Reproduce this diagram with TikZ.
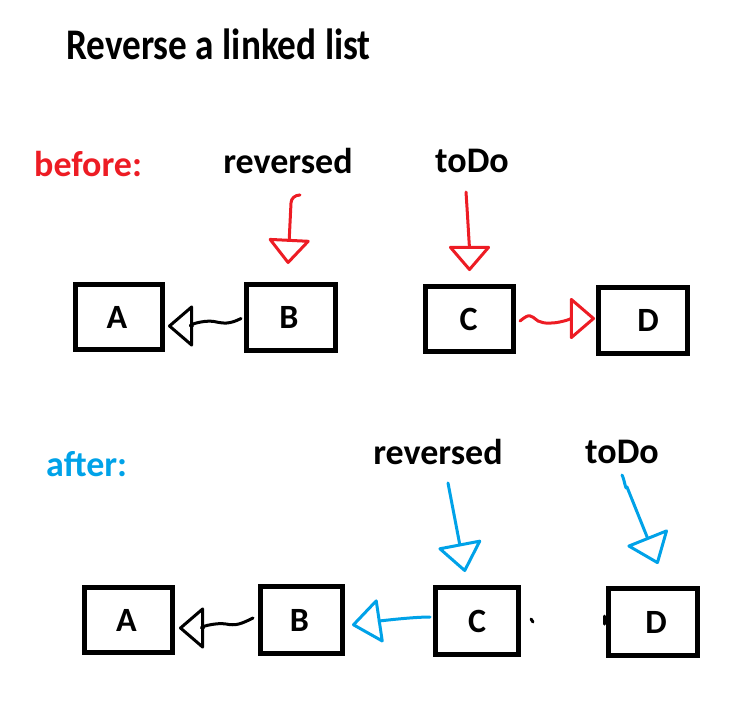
\documentclass[tikz,border=0pt]{standalone}
\usepackage{fontspec}
\setmainfont{Carlito}
\usetikzlibrary{arrows.meta,calc}
\definecolor{pred}{RGB}{237,28,36}
\definecolor{pblue}{RGB}{0,162,232}
\tikzset{
  listbox/.style={draw, line width=5pt, inner sep=0pt,
    font=\bfseries\fontsize{34}{34}\selectfont},
  lbl/.style={inner sep=0pt, font=\bfseries\fontsize{36}{36}\selectfont},
  hand/.style={line width=3pt, line cap=round, line join=round},
  htip/.style={-{Triangle[open,round,length=26pt,width=44pt]}},
  btip/.style={-{Triangle[open,round,length=30pt,width=46pt]}},
}
\begin{document}
\begin{tikzpicture}[x=1pt,y=-1pt]
\useasboundingbox (0,0) rectangle (747,713);
% title and labels
\node[inner sep=0pt, anchor=west, font=\bfseries\fontsize{38}{38}\selectfont] (title) at (66,44) {\scalebox{0.98}[1.15]{Reverse a linked list}};
\node[lbl, pred, anchor=west] (before) at (34,164) {before:};
\node[lbl] (rev1) at (288,161) {reversed};
\node[lbl] (todo1) at (472,161) {toDo};
\node[lbl, pblue, anchor=west] (after) at (46,464) {after:};
\node[lbl] (rev2) at (438,452) {reversed};
\node[lbl] (todo2) at (622,452) {toDo};
% top row
\node[listbox, minimum width=87pt, minimum height=65pt] (tA) at (119,317) {\hspace*{-4pt}A};
\node[listbox, minimum width=89pt, minimum height=66pt] (tB) at (291,317.5) {\hspace*{-4pt}B};
\node[listbox, minimum width=88pt, minimum height=65pt] (tC) at (469.5,319) {\hspace*{-2pt}C};
\node[listbox, minimum width=89pt, minimum height=66pt] (tD) at (643,320.5) {\hspace*{10pt}D};
% bottom row
\node[listbox, minimum width=88pt, minimum height=65pt] (bA) at (128.5,620) {\hspace*{-4pt}A};
\node[listbox, minimum width=82pt, minimum height=67pt] (bB) at (301.5,620) {\hspace*{-4pt}B};
\node[listbox, minimum width=83pt, minimum height=67pt] (bC) at (477,621) {C};
\node[listbox, minimum width=89pt, minimum height=67pt] (bD) at (653,622) {\hspace*{6pt}D};
% top connectors
\draw[hand, htip] ($(tB.west)+(-3,1)$) .. controls +(-12,6) and +(10,2) .. ($(tB.west)+(-30,4)$) .. controls +(-10,-2) and +(16,0) .. ($(tA.east)+(3,9)$);
\draw[hand, pred, htip] ($(tC.east)+(4,2)$) .. controls +(10,-8) and +(-8,-6) .. ($(tC.east)+(22,2)$) .. controls +(12,6) and +(-22,0) .. ($(tD.west)+(-1,-2)$);
\draw[hand, pred, htip] ($(rev1.south)+(12,21)$) to[out=180,in=90] ++(-9,8) -- ($(tB.north)+(-3,-18)$);
\draw[hand, pred, htip] ($(todo1.south)+(-6,19)$) .. controls +(2,30) and +(0,-20) .. ($(tC.north)+(0,-13)$);
% bottom connectors
\draw[hand, htip] ($(bB.west)+(-5,-2)$) .. controls +(-12,6) and +(10,2) .. ($(bB.west)+(-32,4)$) .. controls +(-10,-2) and +(16,0) .. ($(bA.east)+(4,8)$);
\draw[hand, pblue, btip] ($(bC.west)+(-3,-4)$) .. controls +(-20,0) and +(20,-3) .. ($(bB.east)+(7,5)$);
\draw[hand, pblue, btip] ($(rev2.south)+(10,18)$) -- ($(bC.north)+(-12,-13)$);
\draw[hand, pblue, btip] ($(todo2.south)+(0,11)$) to[out=-60,in=-105] ++(5,12) -- ($(bD.north)+(5,-22)$);
% leftover marks
\draw[hand] ($(bC.east)+(10,-2)$) -- ++(2,3);
\draw[hand] ($(bD.west)+(-2,-6)$) -- ++(0,8);
\end{tikzpicture}
\end{document}
